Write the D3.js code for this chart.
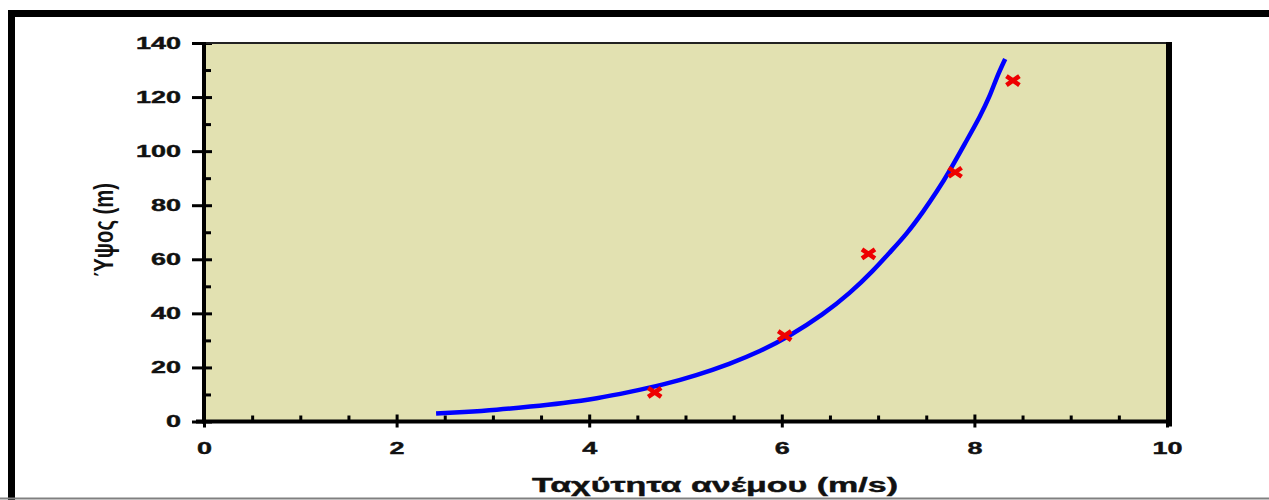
<!DOCTYPE html>
<html>
<head>
<meta charset="utf-8">
<script src="https://cdn.jsdelivr.net/npm/d3@7"></script>
<style>
  html, body { margin: 0; padding: 0; background: #ffffff; }
  svg { display: block; }
  text { font-family: "Liberation Sans", Arial, sans-serif; font-weight: bold; fill: #111; }
</style>
</head>
<body>
<svg id="chart" width="1269" height="500"></svg>
<script>
// Wind profile: fitted curve of speed against height, plus measured points
const curveSpeed  = [2.41, 2.69, 3.04, 3.39, 3.73, 4.08, 4.42, 4.77, 5.11, 5.46, 5.77, 6.09, 6.43,
                     6.71, 6.95, 7.12, 7.30, 7.47, 7.61, 7.75, 7.92, 8.06, 8.16, 8.23, 8.32];
const curveHeight = [3.0, 3.5, 4.3, 5.5, 6.8, 8.5, 10.9, 13.6, 17.0, 21.3, 25.8, 31.8, 39.6,
                     47.5, 55.8, 62.5, 69.5, 77.7, 85.0, 93.1, 104.0, 112.9, 120.3, 127.2, 134.1];
const measSpeed   = [4.68, 6.03, 6.90, 7.80, 8.40];
const measHeight  = [10.8, 31.8, 62.0, 92.2, 126.1];

const xMajorTicks = [0, 2, 4, 6, 8, 10];
const xMinorTicks = [0.5, 1, 1.5, 2.5, 3, 3.5, 4.5, 5, 5.5, 6.5, 7, 7.5, 8.5, 9, 9.5];
const yMajorTicks = [0, 20, 40, 60, 80, 100, 120, 140];
const yMinorTicks = [10, 30, 50, 70, 90, 110, 130];

const xTitle = "Ταχύτητα ανέμου (m/s)";
const yTitle = "Ύψος (m)";

const svg = d3.select("#chart");

// outer frame
svg.append("rect")
  .attr("x", 11.5).attr("y", 13.5)
  .attr("width", 1400).attr("height", 700)
  .attr("fill", "none").attr("stroke", "#000").attr("stroke-width", 7);
svg.append("line")
  .attr("x1", 0).attr("x2", 1269).attr("y1", 498.5).attr("y2", 498.5)
  .attr("stroke", "#808080").attr("stroke-width", 2);

const plotL = 204, plotR = 1167, plotT = 43, plotB = 421.5;
const x = d3.scaleLinear().domain([0, 10]).range([plotL, plotR]);
const y = d3.scaleLinear().domain([0, 140]).range([plotB, plotT]);

// plot background
svg.append("rect")
  .attr("x", plotL).attr("y", plotT)
  .attr("width", plotR - plotL).attr("height", plotB - plotT)
  .attr("fill", "#e2e1b1");

// horizontal stretch applied to label glyphs
const charW = 15;

// y axis
const yMajor = svg.append("g").attr("transform", `translate(${plotL},0)`)
  .call(d3.axisLeft(y).tickValues(yMajorTicks).tickSize(12).tickPadding(11).tickFormat(d3.format("d")));
yMajor.select(".domain").remove();
yMajor.selectAll(".tick line").attr("x1", 8).attr("stroke", "#000").attr("stroke-width", 3);
yMajor.selectAll(".tick text")
  .attr("font-size", 16.5)
  .attr("stroke", "#111").attr("stroke-width", 0.4)
  .attr("textLength", d => String(d).length * charW)
  .attr("lengthAdjust", "spacingAndGlyphs");

const yMinor = svg.append("g").attr("transform", `translate(${plotL},0)`)
  .call(d3.axisLeft(y).tickValues(yMinorTicks).tickSize(-7).tickFormat(""));
yMinor.select(".domain").remove();
yMinor.selectAll(".tick line").attr("stroke", "#000").attr("stroke-width", 3);

// x axis
const xMajor = svg.append("g").attr("transform", `translate(0,${plotB})`)
  .call(d3.axisBottom(x).tickValues(xMajorTicks).tickSize(6).tickFormat(d3.format("d")));
xMajor.select(".domain").remove();
xMajor.selectAll(".tick line").attr("y1", -7).attr("stroke", "#000").attr("stroke-width", 3);
xMajor.selectAll(".tick text")
  .attr("font-size", 16.5)
  .attr("stroke", "#111").attr("stroke-width", 0.4)
  .attr("y", 21)
  .attr("textLength", d => String(d).length * charW)
  .attr("lengthAdjust", "spacingAndGlyphs");

const xMinor = svg.append("g").attr("transform", `translate(0,${plotB})`)
  .call(d3.axisBottom(x).tickValues(xMinorTicks).tickSize(-6).tickFormat(""));
xMinor.select(".domain").remove();
xMinor.selectAll(".tick line").attr("stroke", "#000").attr("stroke-width", 3);

// plot borders
svg.append("line").attr("x1", plotL).attr("x2", plotR + 5).attr("y1", plotT).attr("y2", plotT)
  .attr("stroke", "#222").attr("stroke-width", 2);
svg.append("line").attr("x1", plotR + 2).attr("x2", plotR + 2).attr("y1", plotT - 1).attr("y2", plotB + 5)
  .attr("stroke", "#000").attr("stroke-width", 6);
svg.append("line").attr("x1", plotL).attr("x2", plotL).attr("y1", plotT - 1).attr("y2", plotB + 2)
  .attr("stroke", "#000").attr("stroke-width", 4);
svg.append("line").attr("x1", plotL - 8).attr("x2", plotR + 5).attr("y1", plotB).attr("y2", plotB)
  .attr("stroke", "#000").attr("stroke-width", 4);

// fitted profile curve
const line = d3.line()
  .x((d, i) => x(curveSpeed[i]))
  .y((d, i) => y(curveHeight[i]))
  .curve(d3.curveBasis);
svg.append("path")
  .datum(curveSpeed)
  .attr("d", line)
  .attr("fill", "none")
  .attr("stroke", "#0000ff")
  .attr("stroke-width", 4.5);

// measured points
const hw = 6.5, hh = 4.5;
svg.append("g").selectAll("path")
  .data(measSpeed)
  .join("path")
  .attr("d", (d, i) => {
    const cx = x(d), cy = y(measHeight[i]);
    return `M${cx - hw},${cy - hh}L${cx + hw},${cy + hh}M${cx - hw},${cy + hh}L${cx + hw},${cy - hh}`;
  })
  .attr("stroke", "#ee0000")
  .attr("stroke-width", 4.5)
  .attr("fill", "none");

// axis titles
svg.append("text")
  .attr("x", 715).attr("y", 492)
  .attr("text-anchor", "middle")
  .attr("font-size", 19.5)
  .attr("stroke", "#111").attr("stroke-width", 0.4)
  .attr("textLength", 366)
  .attr("lengthAdjust", "spacingAndGlyphs")
  .text(xTitle);

svg.append("text")
  .attr("transform", "translate(113,230) scale(1.65,1) rotate(-90)")
  .attr("text-anchor", "middle")
  .attr("font-size", 17)
  .attr("textLength", 94)
  .attr("lengthAdjust", "spacingAndGlyphs")
  .text(yTitle);
</script>
</body>
</html>
